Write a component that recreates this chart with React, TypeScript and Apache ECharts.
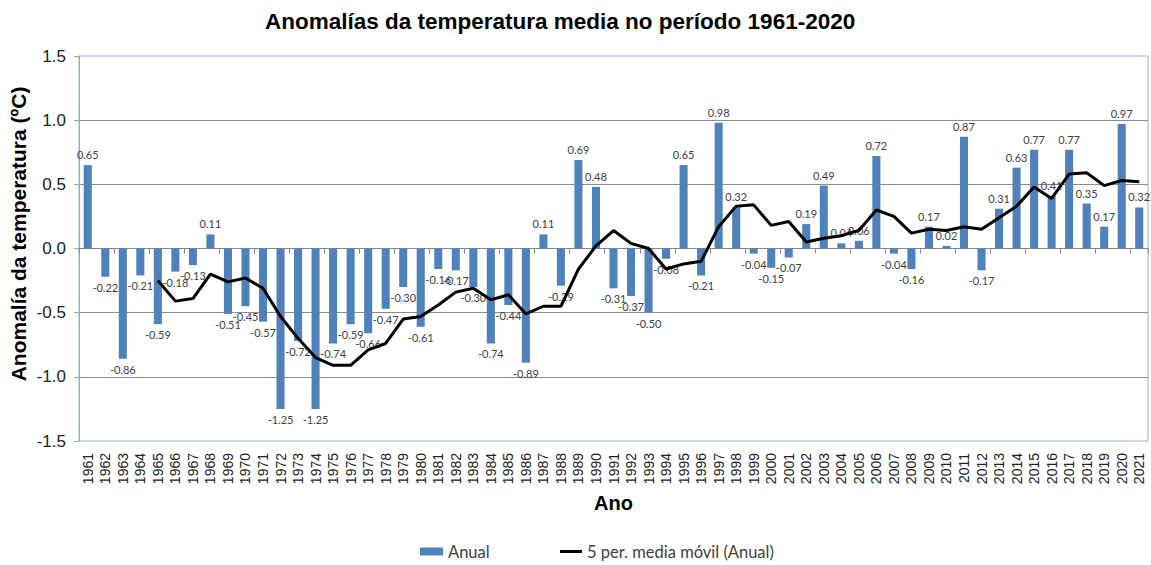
import React, { useEffect, useRef } from "react";
import * as echarts from "echarts";

const years = [
  "1961", "1962", "1963", "1964", "1965", "1966", "1967", "1968", "1969", "1970",
  "1971", "1972", "1973", "1974", "1975", "1976", "1977", "1978", "1979", "1980",
  "1981", "1982", "1983", "1984", "1985", "1986", "1987", "1988", "1989", "1990",
  "1991", "1992", "1993", "1994", "1995", "1996", "1997", "1998", "1999", "2000",
  "2001", "2002", "2003", "2004", "2005", "2006", "2007", "2008", "2009", "2010",
  "2011", "2012", "2013", "2014", "2015", "2016", "2017", "2018", "2019", "2020",
  "2021",
];

const anual = [
  0.65, -0.22, -0.86, -0.21, -0.59, -0.18, -0.13, 0.11, -0.51, -0.45,
  -0.57, -1.25, -0.72, -1.25, -0.74, -0.59, -0.66, -0.47, -0.3, -0.61,
  -0.16, -0.17, -0.3, -0.74, -0.44, -0.89, 0.11, -0.29, 0.69, 0.48,
  -0.31, -0.37, -0.5, -0.08, 0.65, -0.21, 0.98, 0.32, -0.04, -0.15,
  -0.07, 0.19, 0.49, 0.04, 0.06, 0.72, -0.04, -0.16, 0.17, 0.02,
  0.87, -0.17, 0.31, 0.63, 0.77, 0.41, 0.77, 0.35, 0.17, 0.97,
  0.32,
];

const mediaMovil = [
  null, null, null, null, -0.25, -0.41, -0.39, -0.2, -0.26, -0.23,
  -0.31, -0.53, -0.7, -0.85, -0.91, -0.91, -0.79, -0.74, -0.55, -0.53,
  -0.44, -0.34, -0.31, -0.4, -0.36, -0.51, -0.45, -0.45, -0.16, 0.02,
  0.14, 0.04, 0.0, -0.16, -0.12, -0.1, 0.17, 0.33, 0.34, 0.18,
  0.21, 0.05, 0.08, 0.1, 0.14, 0.3, 0.25, 0.12, 0.15, 0.14,
  0.17, 0.15, 0.24, 0.33, 0.48, 0.39, 0.58, 0.59, 0.49, 0.53,
  0.52,
];

const yTicks = { min: -1.5, max: 1.5, interval: 0.5 };

const TITLE = "Anomalías da temperatura media no período 1961-2020";
const Y_TITLE = "Anomalía da temperatura (ºC)";
const X_TITLE = "Ano";
const S_BAR = "Anual";
const S_LINE = "5 per. media móvil (Anual)";

const SANS = "Liberation Sans";
const LBL = "Lato";

export default function App() {
  const ref = useRef<HTMLDivElement>(null);
  useEffect(() => {
    if (!ref.current) return;
    const chart = echarts.init(ref.current, null, { renderer: "svg" });
    const legendText = { fontFamily: LBL, fontSize: 16.5, color: "#404040" };
    chart.setOption({
      animation: false,
      title: {
        text: TITLE,
        left: 260,
        top: 5,
        textStyle: { fontFamily: SANS, fontWeight: "bold", fontSize: 22.5, color: "#000" },
      },
      grid: {
        left: 79,
        right: 3,
        top: 56,
        bottom: 124,
        show: true,
        borderColor: "#95B3D7",
        borderWidth: 1,
        backgroundColor: "transparent",
      },
      legend: [
        {
          left: 420,
          top: 543,
          padding: 0,
          itemWidth: 23,
          itemHeight: 8,
          itemGap: 4,
          textStyle: legendText,
          data: [{ name: S_BAR, icon: "rect" }],
        },
        {
          left: 560,
          top: 543,
          padding: 0,
          itemWidth: 22,
          itemHeight: 3,
          itemGap: 4,
          textStyle: legendText,
          data: [{ name: S_LINE, icon: "rect", itemStyle: { color: "#000" } }],
        },
      ],
      graphic: [
        {
          type: "text",
          x: 18,
          y: 234,
          rotation: Math.PI / 2,
          style: {
            text: Y_TITLE,
            font: `bold 21px "${SANS}"`,
            fill: "#000",
            align: "center",
            verticalAlign: "middle",
          },
        },
      ],
      xAxis: [
        {
          type: "category",
          data: years,
          position: "bottom",
          axisLine: { show: false, onZero: false },
          axisTick: { show: false },
          axisLabel: {
            rotate: 90,
            interval: 0,
            fontSize: 14,
            fontFamily: SANS,
            color: "#222",
            margin: 12,
          },
          name: X_TITLE,
          nameLocation: "middle",
          nameGap: 52,
          nameTextStyle: { fontFamily: SANS, fontWeight: "bold", fontSize: 20, color: "#000" },
        },
        {
          type: "category",
          data: years,
          position: "bottom",
          axisLine: { show: true, onZero: true, lineStyle: { color: "#868686" } },
          axisTick: { show: true, length: 5, lineStyle: { color: "#868686" } },
          axisLabel: { show: false },
        },
      ],
      yAxis: {
        type: "value",
        min: yTicks.min,
        max: yTicks.max,
        interval: yTicks.interval,
        axisLine: { show: true, lineStyle: { color: "#A6A6A6" } },
        axisTick: { show: true, length: 5, lineStyle: { color: "#A6A6A6" } },
        splitLine: {
          show: true,
          showMinLine: false,
          showMaxLine: false,
          lineStyle: { color: "#8C8C8C" },
        },
        axisLabel: {
          formatter: (v: number) => v.toFixed(1),
          fontSize: 17,
          fontFamily: SANS,
          color: "#222",
          margin: 13,
        },
      },
      series: [
        {
          name: S_BAR,
          type: "bar",
          xAxisIndex: 0,
          barWidth: "46%",
          itemStyle: { color: "#4F81BD" },
          data: anual.map((v) => ({
            value: v,
            label: { position: v < 0 ? "bottom" : "top" },
          })),
          label: {
            show: true,
            distance: 5,
            formatter: (p: any) => Number(p.value).toFixed(2),
            fontFamily: LBL,
            fontSize: 11,
            color: "#404040",
          },
        },
        {
          name: S_LINE,
          type: "line",
          xAxisIndex: 0,
          data: mediaMovil,
          symbol: "none",
          showSymbol: false,
          connectNulls: false,
          lineStyle: { color: "#000", width: 3 },
          itemStyle: { color: "#000" },
          z: 5,
        },
      ],
    });
    return () => chart.dispose();
  }, []);
  return (
    <div
      ref={ref}
      style={{ position: "fixed", left: 0, top: 0, width: 1151, height: 565, background: "#fff" }}
    />
  );
}
